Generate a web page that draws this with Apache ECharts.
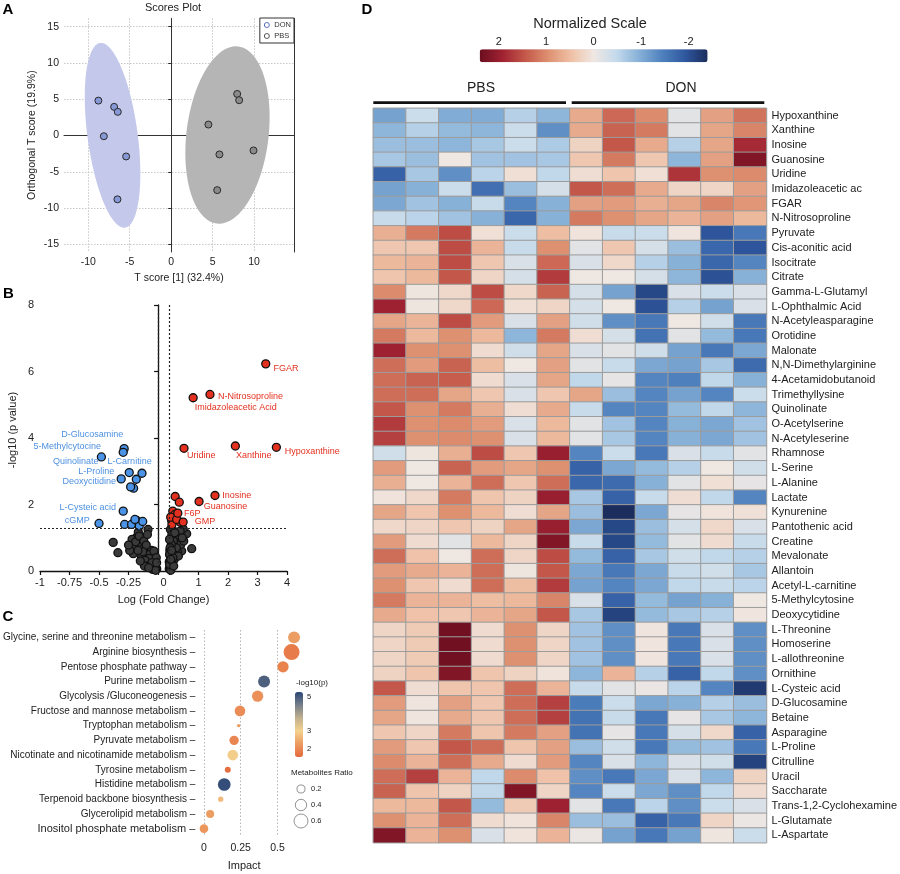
<!DOCTYPE html>
<html><head><meta charset="utf-8">
<script src="https://cdn.jsdelivr.net/npm/echarts@6/dist/echarts.min.js"></script>
<style>html,body{margin:0;padding:0;background:#fff}#c{width:900px;height:874px}</style>
</head><body><div id="c"></div>
<script>
const FONT = '"Liberation Sans", Arial, Helvetica, sans-serif';

// ---------- Panel A : scores plot ----------
const scoreTicksX = [-10, -5, 0, 5, 10];
const scoreTicksY = [-15, -10, -5, 0, 5, 10, 15];
const donScores = [[-8.78, 4.81], [-6.88, 3.95], [-6.44, 3.26], [-8.12, -0.1], [-5.43, -2.89], [-6.48, -8.8]];
const pbsScores = [[7.97, 5.73], [8.21, 4.87], [4.5, 1.51], [5.83, -2.61], [9.94, -2.06], [5.56, -7.53]];
// ellipse: centre x, centre y, major half-vector (x,y), minor half-vector (x,y) in data units
const donEllipse = [-7.07, 0.03, -1.5, 12.73, 3.0, 0.45];
const pbsEllipse = [6.8, 0.07, 1.29, 12.21, 4.92, -0.67];

// ---------- Panel B : volcano ----------
const upNames = ['FGAR', 'N-Nitrosoproline', 'Imidazoleacetic Acid', 'Uridine', 'Xanthine', 'Hypoxanthine', 'Inosine', 'Guanosine', 'F6P', 'GMP'];
const upFC = [3.28, 1.39, 0.82, 0.51, 2.25, 3.64, 1.56, 1.02, 0.30, 0.48];
const upLogP = [6.23, 5.31, 5.21, 3.69, 3.76, 3.72, 2.27, 2.09, 1.74, 1.47];
const upOtherFC = [0.21, 0.35, 0.13, 0.09, 0.38, 0.10, 0.20, 0.06, 0.26];
const upOtherLogP = [2.24, 2.07, 1.80, 1.52, 1.47, 1.40, 1.70, 1.62, 1.55];
const downNames = ['D-Glucosamine', '5-Methylcytocine', 'Quinolinate', 'L-Carnitine', 'L-Proline', 'Deoxycitidine', 'L-Cysteic acid', 'cGMP'];
const downFC = [-0.287, -0.295, -0.48, -0.136, -0.312, -0.232, -0.295, -0.5];
const downLogP = [3.68, 3.57, 3.43, 2.94, 2.77, 2.53, 1.80, 1.43];
const downOtherFC = [-0.244, -0.184, -0.207, -0.283, -0.224, -0.181, -0.159, -0.13, -0.196];
const downOtherLogP = [2.96, 2.76, 2.49, 1.40, 1.40, 1.52, 1.35, 1.49, 1.55];
const nsFC = [-0.38, -0.34, -0.085, -0.18, -0.15, -0.2, -0.125, -0.21, -0.1, -0.14, -0.055, -0.04, -0.08, -0.026, -0.011, -0.054, -0.096, -0.167, -0.22, -0.19, -0.16, -0.12, -0.1, -0.07, -0.06, -0.03, -0.02, -0.045, -0.075, -0.11, -0.13, -0.17, -0.24, -0.25, -0.09, -0.035, -0.015, -0.06, -0.115, -0.15, -0.03, -0.05, -0.02, -0.08, -0.012,
  0.77, 0.6, 0.43, 0.14, 0.26, 0.09, 0.31, 0.14, 0.03, 0.2, 0.05, 0.01, 0.07, 0.01, 0.48, 0.38, 0.05, 0.1, 0.2, 0.35, 0.22, 0.4, 0.12, 0.28, 0.18, 0.03, 0.1, 0.04, 0.15, 0.25, 0.08, 0.02, 0.32, 0.13, 0.06, 0.02, 0.5, 0.45, 0.04, 0.09, 0.02, 0.16, 0.06];
const nsLogP = [0.86, 0.55, 1.25, 1.02, 0.82, 0.72, 0.67, 0.52, 0.52, 0.42, 0.62, 0.42, 0.27, 0.22, 0.07, 0.12, 0.17, 1.17, 0.95, 0.88, 1.05, 0.9, 0.78, 0.5, 0.35, 0.3, 0.1, 0.05, 0.38, 0.32, 0.58, 0.62, 0.62, 0.78, 1.1, 0.6, 0.4, 0.2, 0.15, 0.3, 0.18, 0.25, 0.02, 0.1, 0.25,
  0.67, 1.12, 0.6, 1.22, 1.02, 0.92, 0.82, 0.72, 0.62, 0.52, 0.42, 0.27, 0.17, 0.07, 1.27, 1.2, 1.25, 1.1, 1.15, 0.95, 0.85, 0.8, 0.55, 0.6, 0.35, 0.3, 0.25, 0.12, 0.9, 0.7, 0.8, 0.5, 0.45, 0.4, 0.02, 0.95, 0.9, 1.0, 0.7, 0.62, 0.2, 0.15, 0.35];
const fcNegTicks = [-1, -0.75, -0.5, -0.25, 0];
const fcPosTicks = [0, 1, 2, 3, 4];
const pThreshold = 1.3;

// ---------- Panel C : pathway impact ----------
const pathways = ['Glycine, serine and threonine metabolism', 'Arginine biosynthesis', 'Pentose phosphate pathway', 'Purine metabolism', 'Glycolysis /Gluconeogenesis', 'Fructose and mannose metabolism', 'Tryptophan metabolism', 'Pyruvate metabolism', 'Nicotinate and nicotinamide metabolism', 'Tyrosine metabolism', 'Histidine metabolism', 'Terpenoid backbone biosynthesis', 'Glycerolipid metabolism', 'Inositol phosphate metabolism'];
const impact = [0.613, 0.596, 0.538, 0.409, 0.365, 0.245, 0.236, 0.205, 0.196, 0.162, 0.138, 0.114, 0.042, 0.0];
const pathLogP = [2.3, 1.8, 1.9, 4.95, 2.1, 2.05, 2.3, 1.95, 2.95, 1.6, 5.2, 2.7, 2.3, 2.2];
const metRatio = [0.44, 0.79, 0.39, 0.44, 0.39, 0.35, 0.034, 0.27, 0.35, 0.11, 0.5, 0.087, 0.2, 0.23];
const impactTicks = [0, 0.25, 0.5];
const logPLegendTicks = [2, 3, 5];
const ratioLegend = [0.2, 0.4, 0.6];

// ---------- Panel D : heatmap ----------
const samples = ['PBS1', 'PBS2', 'PBS3', 'PBS4', 'PBS5', 'PBS6', 'DON1', 'DON2', 'DON3', 'DON4', 'DON5', 'DON6'];
const metabolites = ['Hypoxanthine', 'Xanthine', 'Inosine', 'Guanosine', 'Uridine', 'Imidazoleacetic ac', 'FGAR', 'N-Nitrosoproline', 'Pyruvate', 'Cis-aconitic acid', 'Isocitrate', 'Citrate', 'Gamma-L-Glutamyl', 'L-Ophthalmic Acid', 'N-Acetyleasparagine', 'Orotidine', 'Malonate', 'N,N-Dimethylarginine', '4-Acetamidobutanoid', 'Trimethyllysine', 'Quinolinate', 'O-Acetylserine', 'N-Acetyleserine', 'Rhamnose', 'L-Serine', 'L-Alanine', 'Lactate', 'Kynurenine', 'Pantothenic acid', 'Creatine', 'Mevalonate', 'Allantoin', 'Acetyl-L-carnitine', '5-Methylcytosine', 'Deoxycytidine', 'L-Threonine', 'Homoserine', 'L-allothreonine', 'Ornithine', 'L-Cysteic acid', 'D-Glucosamine', 'Betaine', 'Asparagine', 'L-Proline', 'Citrulline', 'Uracil', 'Saccharate', 'Trans-1,2-Cyclohexamine', 'L-Glutamate', 'L-Aspartate'];
const heatValues = [
  [-1.1, -0.4, -1.0, -1.0, -0.6, -0.9, 0.7, 1.3, 1.0, -0.15, 0.8, 1.2],
  [-0.9, -0.6, -0.85, -0.9, -0.4, -1.3, 0.7, 1.35, 1.15, -0.15, 0.75, 1.05],
  [-0.8, -0.8, -0.9, -0.7, -0.4, -0.65, 0.25, 1.45, 0.7, -0.6, 0.75, 1.85],
  [-0.7, -0.8, 0, -0.75, -0.75, -0.7, 0.4, 1.15, 0.4, -0.9, 0.8, 2.2],
  [-1.8, -0.7, -1.3, -0.55, 0.1, -0.5, 0.12, 0.42, 0.1, 1.75, 0.95, 1.0],
  [-1.1, -0.95, -0.4, -1.65, -0.8, -0.3, 1.45, 1.25, 0.7, 0.22, 0.22, 0.8],
  [-1.05, -0.75, -0.95, -0.45, -1.4, -0.95, 0.8, 0.85, 0.65, 0.75, 1.05, 0.9],
  [-0.45, -0.55, -0.75, -0.95, -1.75, -0.95, 1.15, 0.95, 0.75, 0.6, 0.8, 0.55],
  [0.65, 1.15, 1.55, 0.1, -0.4, 0.5, 0.05, -0.45, -0.4, 0.03, -1.95, -1.55],
  [0.4, 0.4, 1.55, 0.6, -0.45, 0.95, -0.15, 0.4, -0.3, -0.8, -1.75, -1.95],
  [0.55, 0.6, 1.55, 0.4, -0.25, 1.3, -0.25, 0.2, -0.6, -0.95, -1.75, -1.4],
  [0.42, 0.55, 1.45, 0.22, -0.3, 1.7, 0, 0, -0.3, -0.9, -2.0, -0.95],
  [1.0, 0.02, 0.2, 1.55, 0.2, 1.35, -0.3, -1.1, -2.1, -0.25, -0.4, -0.25],
  [1.95, 0.02, 0.2, 1.3, 0.1, 0.22, -0.3, 0, -2.0, -0.6, -1.1, -0.25],
  [0.75, 0.6, 1.55, 0.85, -0.25, 0.8, -0.35, -1.3, -1.55, 0, -0.35, -1.55],
  [1.15, 0.55, 0.95, 0.55, -0.9, 1.15, 0.12, -0.3, -1.6, -0.15, -0.85, -1.55],
  [1.95, 0.95, 0.95, 0.15, -0.35, 0.75, -0.25, -0.15, -0.35, -1.1, -1.55, -1.05],
  [1.25, 0.85, 1.35, 0.5, 0, 0.8, -0.15, -0.45, -1.05, -1.1, -0.7, -1.7],
  [1.25, 1.35, 1.4, 0.15, -0.25, 0.75, -0.5, -0.1, -1.4, -1.45, -0.5, -0.95],
  [1.25, 1.25, 0.75, 0.4, -0.25, 0.4, 0.75, -0.8, -1.4, -1.1, -1.4, -0.4],
  [1.45, 0.95, 1.15, 0.65, 0.12, 0.7, -0.45, -1.4, -1.4, -0.85, -0.5, -0.9],
  [1.7, 0.95, 1.0, 0.85, -0.25, 0.55, -0.15, -0.75, -1.4, -0.95, -1.05, -0.75],
  [1.65, 0.95, 1.0, 0.95, -0.25, 0.55, -0.15, -0.7, -1.4, -0.95, -1.05, -0.75],
  [-0.35, 0.02, 0.65, 1.55, 0.4, 2.0, -1.4, -0.4, -1.55, -0.25, -0.45, -0.15],
  [0.85, 0, 1.35, 0.85, 0.75, 0.95, -1.8, -1.05, -0.85, -0.6, 0, -0.35],
  [0.65, 0, 0.6, 1.25, 0.4, 1.25, -1.75, -1.7, -0.95, -0.15, 0.1, -0.1],
  [0.05, 0.2, 1.15, 0.42, 0.25, 2.0, -0.7, -1.8, -0.45, 0.12, -0.5, -1.4],
  [0.75, 0.42, 0.95, 0.55, 0.12, 0.75, -0.8, -2.4, -1.05, -0.1, 0.05, 0.08],
  [0.2, 0.22, 0.4, 0.25, 0.75, 2.0, -1.05, -2.1, -0.8, -0.3, 0.2, -0.25],
  [0.85, 0.15, -0.15, 0.55, 0.22, 2.2, -0.45, -2.1, -0.85, -0.15, 0.15, -0.45],
  [1.25, 0.45, 0, 1.25, 0.22, 1.55, -0.85, -1.8, -0.7, -0.35, -0.5, -0.6],
  [0.85, 0.7, 0.6, 1.25, 0.02, 1.45, -1.05, -1.55, -1.05, -0.45, -0.35, -0.7],
  [0.95, 0.4, 0.15, 1.25, 0.5, 1.7, -1.1, -1.4, -1.05, -0.5, -0.45, -0.55],
  [1.15, 0.6, 0.6, 0.5, 0.55, 1.05, -0.25, -1.8, -0.85, -1.1, -0.95, 0],
  [0.7, 0.45, 0.4, 0.6, 0.75, 1.45, -0.7, -2.15, -0.85, -0.7, -0.6, 0.03],
  [0.22, 0.35, 2.35, 0.15, 0.95, 0.22, -0.75, -1.3, 0.03, -1.55, -0.25, -1.3],
  [0.22, 0.35, 2.35, 0.15, 0.95, 0.22, -0.75, -1.3, 0.03, -1.55, -0.25, -1.3],
  [0.22, 0.35, 2.35, 0.15, 0.95, 0.22, -0.75, -1.3, 0.03, -1.55, -0.25, -1.3],
  [0.25, 0.42, 2.2, 0.42, 0.25, 0.05, -0.9, 0.6, -0.6, -1.8, -0.5, -1.3],
  [1.45, 0.12, 0.42, 0.42, 1.25, 0.6, -0.45, -0.15, -0.05, -0.55, -1.4, -2.25],
  [0.85, 0.03, 0.8, 0.4, 1.25, 1.65, -1.5, -0.4, -1.05, -0.95, -0.6, -0.8],
  [0.75, 0.03, 0.7, 0.4, 1.25, 1.65, -1.6, -0.45, -1.55, -0.1, -0.7, -0.9],
  [0.4, 0.22, 1.15, 0.42, 1.15, 0.8, -1.6, -0.1, -1.55, -0.3, 0.2, -1.8],
  [0.85, 0.4, 1.45, 1.25, 0.42, 0.8, -0.8, -0.35, -1.55, -0.85, -0.75, -1.55],
  [1.0, 0.6, 1.25, 0.7, 0.15, 0.85, -1.4, -0.25, -0.9, -0.25, -0.35, -2.15],
  [1.25, 1.65, 0.6, -0.5, 1.0, 0.45, -1.3, -1.55, -1.05, -0.25, -0.9, 0.25],
  [1.35, 0.42, 0.25, -0.5, 2.2, 0.22, -1.4, -0.4, -1.05, -1.3, -0.5, 0.15],
  [0.55, 0.55, 1.45, -0.85, 0.35, 1.95, -0.15, -1.55, -0.55, -1.3, -0.4, -0.25],
  [0.95, 0.6, 1.25, 0.15, 0.05, 1.05, -0.8, -0.8, -1.8, -1.55, 0.22, -0.05],
  [2.2, 0.6, 0.95, -0.25, 0.05, 0.6, -0.05, -1.1, -1.55, -1.1, 0.02, -0.4]
];
const heatTicks = [2, 1, 0, -1, -2];

// ---------- styles ----------
const heatColors = ['#1b2d5c', '#2f58a0', '#4f81be', '#86b0d7', '#c4daec', '#efe7e2', '#efc0a5', '#de9070', '#c4584a', '#a02232', '#6a0e1f'];
const impactColors = ['#e4693b', '#ec9a60', '#f4d28e', '#c2b08e', '#76808a', '#2a4676'];
const labelPlacement = {
  'FGAR': ['right', -2, 5], 'N-Nitrosoproline': ['right', -1.7, 1.7], 'Imidazoleacetic Acid': ['right', -8, 10],
  'Uridine': ['right', -6.6, 7.3], 'Xanthine': ['right', -9, 9.6], 'Hypoxanthine': ['right', -1.3, 4.7],
  'Inosine': ['right', -2.3, 0.4], 'Guanosine': ['right', -5, 5.4], 'F6P': ['right', -3.4, 0.4], 'GMP': ['right', 2, -0.4],
  'D-Glucosamine': ['left', 8.7, -14], '5-Methylcytocine': ['left', -12.6, -5.3], 'Quinolinate': ['left', 6.7, 4.3],
  'L-Carnitine': ['left', 19.3, -11.3], 'L-Proline': ['left', 2.7, -7], 'Deoxycitidine': ['left', -5, -5],
  'L-Cysteic acid': ['left', 2.4, -4], 'cGMP': ['left', 0.4, -3.3]
};

// segmented fold-change axis: left part stretched x4, right part shifted by a gap
const NEG_STRETCH = 4, POS_GAP = 0.37;
const toU = fc => fc < 0 ? fc * NEG_STRETCH : fc + POS_GAP;
const fcTickU = fcNegTicks.map(f => f * NEG_STRETCH).concat(fcPosTicks.map(f => f + POS_GAP));
const fcLabelU = fcNegTicks.slice(0, -1).map(f => f * NEG_STRETCH).concat([POS_GAP / 2]).concat(fcPosTicks.slice(1).map(f => f + POS_GAP));
function fcLabel(u) {
  if (Math.abs(u - POS_GAP / 2) < 1e-6) return '0';
  if (u < 0) return String(+(u / NEG_STRETCH).toFixed(2));
  return String(Math.round(u - POS_GAP));
}

function volcano(fcs, lps, color, names, textColor) {
  return {
    type: 'scatter', xAxisIndex: 1, yAxisIndex: 1, symbolSize: 8,
    itemStyle: { color: color, borderColor: '#111', borderWidth: 1.3, opacity: 1 },
    data: fcs.map((f, i) => {
      const d = { value: [toU(f), lps[i]] };
      if (names) {
        const p = labelPlacement[names[i]];
        d.name = names[i];
        d.label = { show: true, position: p[0], offset: [p[1], p[2]], formatter: names[i], color: textColor, fontSize: 9, fontFamily: FONT };
      }
      return d;
    })
  };
}

function ellipseItem(params, api) {
  const cx = api.value(0), cy = api.value(1), ux = api.value(2), uy = api.value(3), vx = api.value(4), vy = api.value(5);
  const pts = [];
  for (let i = 0; i < 96; i++) {
    const t = i / 96 * Math.PI * 2;
    pts.push(api.coord([cx + Math.cos(t) * ux + Math.sin(t) * vx, cy + Math.cos(t) * uy + Math.sin(t) * vy]));
  }
  return { type: 'polygon', shape: { points: pts }, style: { fill: api.visual('color') } };
}

const heatData = [];
heatValues.forEach((row, r) => row.forEach((v, c) => heatData.push([c, r, v])));

const axisTxt = { color: '#222', fontFamily: FONT };
const hidden = { show: false };

const series = [
  { type: 'custom', name: 'DON region', xAxisIndex: 0, yAxisIndex: 0, renderItem: ellipseItem, itemStyle: { color: '#c4c8ea' }, data: [donEllipse], encode: { x: 0, y: 1 }, silent: true },
  { type: 'custom', name: 'PBS region', xAxisIndex: 0, yAxisIndex: 0, renderItem: ellipseItem, itemStyle: { color: '#b5b5b5' }, data: [pbsEllipse], encode: { x: 0, y: 1 }, silent: true },
  { type: 'scatter', name: 'DON', xAxisIndex: 0, yAxisIndex: 0, symbolSize: 7, itemStyle: { color: '#8698d6', borderColor: '#2a2a2a', borderWidth: 1, opacity: 1 }, data: donScores },
  { type: 'scatter', name: 'PBS', xAxisIndex: 0, yAxisIndex: 0, symbolSize: 7, itemStyle: { color: '#8a8a8a', borderColor: '#2a2a2a', borderWidth: 1, opacity: 1 }, data: pbsScores },
  Object.assign(volcano(nsFC, nsLogP, '#3a3a3a', null, null), {
    markLine: {
      silent: true, symbol: 'none', label: { show: false },
      lineStyle: { type: [2, 2], color: '#222', width: 1.2 },
      data: [{ xAxis: 0 }, { xAxis: POS_GAP }, { yAxis: pThreshold }]
    }
  }),
  volcano(downOtherFC, downOtherLogP, '#4a93e6', null, null),
  volcano(upOtherFC, upOtherLogP, '#e3301f', null, null),
  volcano(downFC, downLogP, '#4a93e6', downNames, '#4d90e0'),
  volcano(upFC, upLogP, '#e3301f', upNames, '#e3301f'),
  {
    type: 'scatter', xAxisIndex: 2, yAxisIndex: 2,
    symbolSize: v => 18 * Math.sqrt(v[3]),
    itemStyle: { opacity: 1 },
    data: impact.map((x, i) => [x, i, pathLogP[i], metRatio[i]])
  },
  {
    type: 'scatter', xAxisIndex: 4, yAxisIndex: 4,
    symbolSize: v => 18 * Math.sqrt(v[2]),
    itemStyle: { color: 'rgba(0,0,0,0)', borderColor: '#555', borderWidth: 0.8 },
    data: ratioLegend.map((r, i) => [0, i, r])
  },
  {
    type: 'heatmap', xAxisIndex: 5, yAxisIndex: 5, data: heatData,
    itemStyle: { borderColor: '#9c9c9c', borderWidth: 1 },
    emphasis: { disabled: true }
  }
];

const option = {
  animation: false,
  textStyle: { fontFamily: FONT },
  grid: [
    { left: 64, top: 18.3, width: 230, height: 233.7 },
    { left: 40, top: 305, width: 247, height: 266 },
    { left: 184, top: 630, width: 118, height: 206 },
    { left: 295, top: 692, width: 8, height: 65 },
    { left: 295, top: 781, width: 12, height: 48 },
    { left: 373.3, top: 108.3, width: 394.4, height: 734.4 },
    { left: 479.7, top: 49.3, width: 227.9, height: 13 }
  ],
  xAxis: [
    {
      gridIndex: 0, type: 'value', min: -12.93, max: 14.83,
      name: 'T score [1] (32.4%)', nameLocation: 'middle', nameGap: 21, nameTextStyle: Object.assign({ fontSize: 10.5 }, axisTxt),
      axisLine: { lineStyle: { color: '#333' } },
      axisTick: { length: 3, customValues: scoreTicksX, lineStyle: { color: '#333' } },
      axisLabel: Object.assign({ customValues: scoreTicksX, fontSize: 10.5, margin: 5 }, axisTxt),
      splitLine: { show: true, lineStyle: { type: [1.5, 1.5], color: '#c8c8c8' } }
    },
    {
      gridIndex: 1, type: 'value', min: -4, max: 4 + POS_GAP,
      name: 'Log (Fold Change)', nameLocation: 'middle', nameGap: 23, nameTextStyle: Object.assign({ fontSize: 11 }, axisTxt),
      axisLine: { lineStyle: { color: '#111', width: 1.3 } },
      axisTick: { length: 4, customValues: fcTickU, lineStyle: { color: '#111', width: 1.2 } },
      axisLabel: Object.assign({ customValues: fcLabelU, fontSize: 11, margin: 6, formatter: fcLabel }, axisTxt),
      splitLine: hidden
    },
    {
      gridIndex: 2, type: 'value', min: -0.12, max: 0.667, offset: 2,
      name: 'Impact', nameLocation: 'middle', nameGap: 22, nameTextStyle: Object.assign({ fontSize: 11 }, axisTxt),
      axisLine: { lineStyle: { color: '#333' } },
      axisTick: { length: 3, customValues: impactTicks, lineStyle: { color: '#333' } },
      axisLabel: Object.assign({ customValues: impactTicks, fontSize: 10.5, margin: 5, formatter: v => String(v) }, axisTxt),
      splitLine: { show: true, lineStyle: { type: [1.5, 2], color: '#b5b5b5' } }
    },
    { gridIndex: 3, type: 'value', show: false, min: 0, max: 1 },
    { gridIndex: 4, type: 'value', show: false, min: -1, max: 1 },
    { gridIndex: 5, type: 'category', data: samples, show: false },
    {
      gridIndex: 6, type: 'value', min: -2.4, max: 2.4, inverse: true, position: 'top',
      axisLine: hidden, axisTick: hidden, splitLine: hidden,
      axisLabel: Object.assign({ customValues: heatTicks, fontSize: 11, margin: 2 }, axisTxt)
    }
  ],
  yAxis: [
    {
      gridIndex: 0, type: 'value', min: -16.06, max: 16.16,
      name: 'Orthogonal T score (19.9%)', nameLocation: 'middle', nameGap: 26, nameTextStyle: Object.assign({ fontSize: 10.5 }, axisTxt),
      axisLine: { show: true, lineStyle: { color: '#333' } },
      axisTick: { show: true, length: 3, customValues: scoreTicksY, lineStyle: { color: '#333' } },
      axisLabel: Object.assign({ customValues: scoreTicksY, fontSize: 10.5, margin: 5 }, axisTxt),
      splitLine: { show: true, lineStyle: { type: [1.5, 1.5], color: '#c8c8c8' } }
    },
    {
      gridIndex: 1, type: 'value', min: 0, max: 8, interval: 2,
      axisLine: { show: true, lineStyle: { color: '#111', width: 1.3 } },
      axisTick: { show: true, length: 4, lineStyle: { color: '#111', width: 1.2 } },
      axisLabel: Object.assign({ fontSize: 11, margin: 6 }, axisTxt),
      splitLine: hidden
    },
    {
      gridIndex: 2, type: 'category', inverse: true,
      data: pathways.map((p, i) => i === pathways.length - 1 ? { value: p, textStyle: { fontSize: 11 } } : p),
      axisLine: hidden, axisTick: hidden, splitLine: hidden,
      axisLabel: Object.assign({ fontSize: 10, margin: -9, formatter: v => v + ' \u2013' }, axisTxt)
    },
    {
      gridIndex: 3, type: 'value', min: 1.5, max: 5.3, position: 'right',
      axisLine: hidden, axisTick: hidden, splitLine: hidden,
      axisLabel: Object.assign({ customValues: logPLegendTicks, fontSize: 7.5, margin: 4 }, axisTxt)
    },
    {
      gridIndex: 4, type: 'category', inverse: true, position: 'right', data: ratioLegend.map(String),
      axisLine: hidden, axisTick: hidden, splitLine: hidden,
      axisLabel: Object.assign({ fontSize: 7.5, margin: 4 }, axisTxt)
    },
    {
      gridIndex: 5, type: 'category', inverse: true, position: 'right', data: metabolites,
      axisLine: hidden, axisTick: hidden, splitLine: hidden,
      axisLabel: Object.assign({ fontSize: 11, margin: 5, interval: 0 }, axisTxt)
    },
    { gridIndex: 6, type: 'value', show: false, min: 0, max: 1 },
    {
      gridIndex: 0, type: 'value', position: 'right', min: -16.06, max: 16.16,
      axisLine: { show: true, lineStyle: { color: '#333' } }, axisTick: hidden, axisLabel: hidden, splitLine: hidden
    }
  ],
  visualMap: [
    {
      type: 'continuous', seriesIndex: 11, min: -2.4, max: 2.4, orient: 'horizontal', inverse: true,
      left: 479.7, top: 49.3, itemWidth: 13, itemHeight: 227.9, padding: 0, calculable: false,
      inRange: { color: heatColors }, text: null
    },
    {
      type: 'continuous', seriesIndex: 9, dimension: 2, min: 1.5, max: 5.3, orient: 'vertical',
      left: 295, top: 692, itemWidth: 8, itemHeight: 65, padding: 0, calculable: false,
      inRange: { color: impactColors }, text: null
    }
  ],
  legend: {
    data: [
      { name: 'DON', icon: 'circle', itemStyle: { color: '#fff', borderColor: '#5a6fc0', borderWidth: 1 } },
      { name: 'PBS', icon: 'circle', itemStyle: { color: '#fff', borderColor: '#555', borderWidth: 1 } }
    ],
    orient: 'vertical', right: 606, top: 18, itemWidth: 5, itemHeight: 5, itemGap: 3, itemTextGap: 4,
    padding: [3, 3, 3, 4], borderColor: '#333', borderWidth: 1, backgroundColor: '#fff',
    selectedMode: false, textStyle: { fontSize: 7.5, color: '#333', fontFamily: FONT }
  },
  graphic: [
    { type: 'text', x: 2.5, y: 10, style: { text: 'A', font: 'bold 15px ' + FONT, fill: '#000', verticalAlign: 'middle' } },
    { type: 'text', x: 3, y: 294, style: { text: 'B', font: 'bold 15px ' + FONT, fill: '#000', verticalAlign: 'middle' } },
    { type: 'text', x: 2.5, y: 616.5, style: { text: 'C', font: 'bold 15px ' + FONT, fill: '#000', verticalAlign: 'middle' } },
    { type: 'text', x: 361.5, y: 10, style: { text: 'D', font: 'bold 15px ' + FONT, fill: '#000', verticalAlign: 'middle' } },
    { type: 'text', x: 173, y: 7.5, style: { text: 'Scores Plot', font: '11px ' + FONT, fill: '#222', align: 'center', verticalAlign: 'middle' } },
    { type: 'text', x: 13, y: 430, rotation: Math.PI / 2, style: { text: '-log10 (p value)', font: '11px ' + FONT, fill: '#222', align: 'center', verticalAlign: 'middle' } },
    { type: 'text', x: 296, y: 683, style: { text: '-log10(p)', font: '8px ' + FONT, fill: '#222', verticalAlign: 'middle' } },
    { type: 'text', x: 291, y: 773, style: { text: 'Metabolites Ratio', font: '8px ' + FONT, fill: '#222', verticalAlign: 'middle' } },
    { type: 'text', x: 590, y: 24, style: { text: 'Normalized Scale', font: '14.5px ' + FONT, fill: '#222', align: 'center', verticalAlign: 'middle' } },
    { type: 'text', x: 481, y: 88.3, style: { text: 'PBS', font: '14px ' + FONT, fill: '#222', align: 'center', verticalAlign: 'middle' } },
    { type: 'text', x: 681, y: 88.3, style: { text: 'DON', font: '14px ' + FONT, fill: '#222', align: 'center', verticalAlign: 'middle' } },
    { type: 'line', shape: { x1: 373.3, y1: 102.7, x2: 566, y2: 102.7 }, style: { stroke: '#111', lineWidth: 2.7 } },
    { type: 'line', shape: { x1: 571.7, y1: 102.7, x2: 764.3, y2: 102.7 }, style: { stroke: '#111', lineWidth: 2.7 } }
  ],
  series: series
};

const chart = echarts.init(document.getElementById('c'), null, { renderer: 'canvas' });
chart.setOption(option);
</script>
</body></html>
